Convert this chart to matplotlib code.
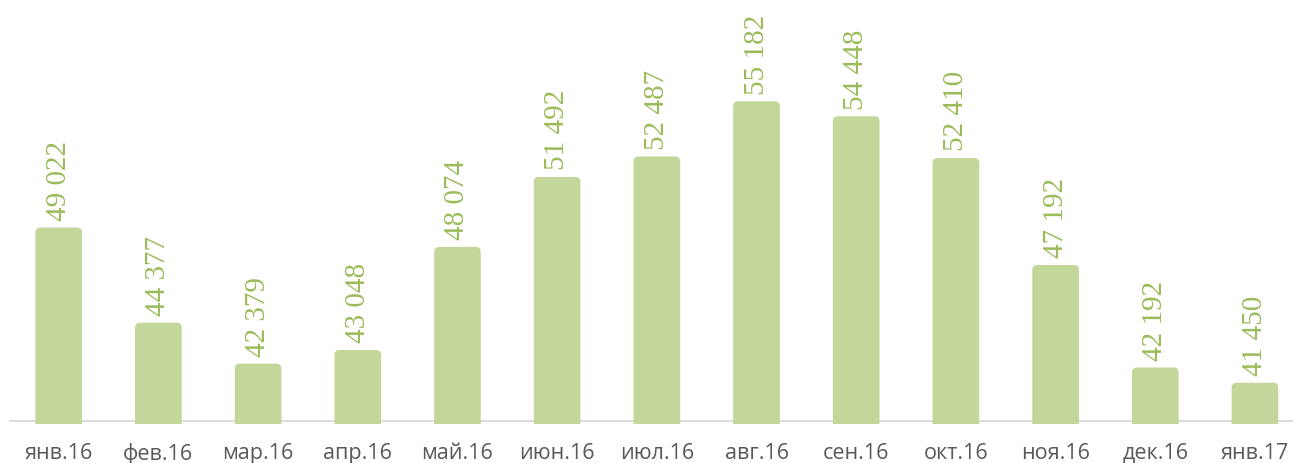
import matplotlib
matplotlib.use("Agg")
import matplotlib.pyplot as plt
from matplotlib.patches import FancyBboxPatch

categories = ["янв.16", "фев.16", "мар.16", "апр.16", "май.16", "июн.16", "июл.16",
              "авг.16", "сен.16", "окт.16", "ноя.16", "дек.16", "янв.17"]
values = [49022, 44377, 42379, 43048, 48074, 51492, 52487,
          55182, 54448, 52410, 47192, 42192, 41450]

BAR_COLOR = "#C4D79B"
LABEL_COLOR = "#9BBB59"
TICK_COLOR = "#595959"

y_base = 39600
y_low = y_base - 150
y_high = 60170

fig = plt.figure(figsize=(12.93, 4.64), dpi=100)
ax = fig.add_axes([8.85 / 1293, (464 - 424.7) / 464, 13 * 99.69 / 1293, 424.7 / 464])
ax.set_xlim(-0.5, len(categories) - 0.5)
ax.set_ylim(y_low, y_high)

ax.axhline(y_base, color="#D9D9D9", lw=1.3, zorder=1)

bar_w = 0.468
px_per_x = 99.69
px_per_y = 0.0205
r_x = 5 / px_per_x
r_y = 5 / px_per_y
bottom = y_low - 2000
for i, v in enumerate(values):
    p = FancyBboxPatch((i - bar_w / 2, bottom), bar_w, v - bottom,
                       boxstyle=f"round,pad=0,rounding_size={r_x}",
                       mutation_aspect=r_y / r_x,
                       facecolor=BAR_COLOR, edgecolor="none", zorder=2)
    ax.add_patch(p)
    ax.annotate(f"{v:,}".replace(",", " "), xy=(i, v), xytext=(0, 5.5),
                textcoords="offset points", rotation=90, ha="center", va="bottom",
                fontsize=21, family="Liberation Serif", color=LABEL_COLOR, zorder=3)

ax.set_xticks(range(len(categories)))
ax.set_xticklabels(categories, family="Open Sans", fontsize=15.5, color=TICK_COLOR)
ax.tick_params(axis="x", length=0, pad=13)
ax.set_yticks([])
for s in ax.spines.values():
    s.set_visible(False)

fig.savefig("out.png", dpi=100)
